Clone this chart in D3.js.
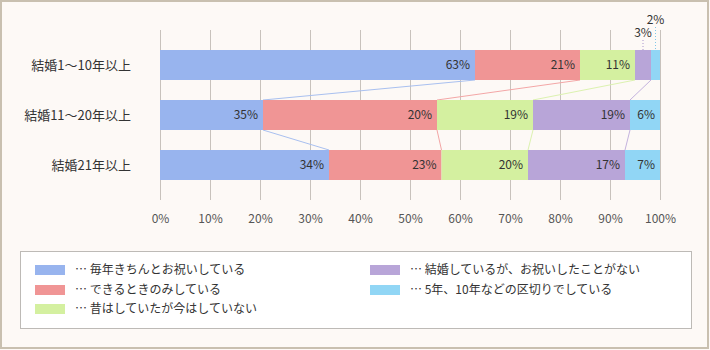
<!DOCTYPE html>
<html><head><meta charset="utf-8">
<script src="https://cdn.jsdelivr.net/npm/d3@7"></script>
<style>
html,body{margin:0;padding:0;background:#fdf9f6;}
svg text{font-family:"Noto Sans CJK JP","Noto Sans",sans-serif;}
</style></head>
<body><svg id="c" width="710" height="350"></svg>
<script>
const categories = ["結婚1～10年以上", "結婚11～20年以上", "結婚21年以上"];
const seriesNames = ["毎年きちんとお祝いしている", "できるときのみしている", "昔はしていたが今はしていない", "結婚しているが、お祝いしたことがない", "5年、10年などの区切りでしている"];
// segment lengths as drawn in the picture
const seg1 = [63, 21, 11, 3.2, 1.8];
const seg2 = [20.6, 34.8, 19.2, 19.4, 6];
const seg3 = [33.8, 22.5, 17.3, 19.4, 7];
// percentages as printed on the bars
const lab1 = ["63%", "21%", "11%", "3%", "2%"];
const lab2 = ["35%", "20%", "19%", "19%", "6%"];
const lab3 = ["34%", "23%", "20%", "17%", "7%"];
const tickValues = [0,10,20,30,40,50,60,70,80,90,100];
const colors = ["#98b4ee", "#f09595", "#d4f0a0", "#b8a5d8", "#91d6f5"];
const lineColors = ["#a9c0f0", "#f3a6a6", "#dcf2b0", "#c4b3de"];

const segs = [seg1, seg2, seg3];
const labs = [lab1, lab2, lab3];

const svg = d3.select("#c");
svg.append("rect").attr("x",1).attr("y",1).attr("width",707).attr("height",347)
  .attr("fill","#fdf9f6").attr("stroke","#c9c0b0").attr("stroke-width",2);

const x = d3.scaleLinear().domain([0,100]).range([160,660]);
const y = d3.scaleBand().domain(categories).range([40,190]).paddingInner(0.4).paddingOuter(0.2);

// grid
svg.append("g").selectAll("line").data(tickValues).join("line")
  .attr("x1",d=>Math.round(x(d))+0.5).attr("x2",d=>Math.round(x(d))+0.5)
  .attr("y1",30).attr("y2",200).attr("stroke","#c8c2bc").attr("stroke-width",1);

// axis labels
const ax = svg.append("g").attr("transform","translate(0,219)")
  .call(d3.axisBottom(x).tickValues(tickValues).tickFormat(d=>d+"%").tickSize(0).tickPadding(0));
ax.select(".domain").remove();
ax.selectAll("text").attr("fill","#555").attr("font-size",12).attr("dy","0.35em")
  .attr("font-family","'Noto Sans CJK JP',sans-serif");

// stacks
const stacked = segs.map(s => { let c=0; return s.map(v => { const a=c; c+=v; return [a,c]; }); });

// connectors
for (let r=0; r<2; r++) {
  for (let k=0; k<4; k++) {
    svg.append("line")
      .attr("x1", x(stacked[r][k][1])).attr("y1", y(categories[r])+y.bandwidth())
      .attr("x2", x(stacked[r+1][k][1])).attr("y2", y(categories[r+1]))
      .attr("stroke", lineColors[k]).attr("stroke-width",1);
  }
}

categories.forEach((cat,r) => {
  const g = svg.append("g");
  g.selectAll("rect").data(stacked[r]).join("rect")
    .attr("x",d=>x(d[0])).attr("width",d=>x(d[1])-x(d[0]))
    .attr("y",y(cat)).attr("height",y.bandwidth())
    .attr("fill",(d,i)=>colors[i]);
  g.selectAll("text.v").data(stacked[r]).join("text").attr("class","v")
    .filter((d,i)=> (d[1]-d[0]) > 4)
    .attr("x",d=>x(d[1])-5).attr("y",y(cat)+y.bandwidth()/2).attr("dy","0.36em")
    .attr("text-anchor","end").attr("font-size",12).attr("fill","#333")
    .text((d,i)=>labs[r][stacked[r].indexOf(d)]);
  // small segments: labels above with dotted leaders
  stacked[r].forEach((d,i) => {
    if (d[1]-d[0] <= 4) {
      const cx = x((d[0]+d[1])/2);
      const top = i===4 ? 27 : 40;
      g.append("line").attr("x1",cx).attr("x2",cx).attr("y1",top).attr("y2",y(cat))
        .attr("stroke",lineColors[3] && (i===4?"#7fc8ea":"#a895cc")).attr("stroke-width",1)
        .attr("stroke-dasharray","1,2");
      g.append("text").attr("x",cx).attr("y",top-3).attr("text-anchor","middle")
        .attr("font-size",12).attr("fill","#333").text(labs[r][i]);
    }
  });
  svg.append("text").attr("x",131).attr("y",y(cat)+y.bandwidth()/2).attr("dy","0.36em")
    .attr("text-anchor","end").attr("font-size",13).attr("fill","#333").text(cat);
});

// legend
svg.append("rect").attr("x",20.5).attr("y",251.5).attr("width",671).attr("height",77)
  .attr("fill","#fff").attr("stroke","#bdbab6").attr("stroke-width",1);
const legPos = [[35,270],[35,290],[35,309],[370,270],[370,290]];
seriesNames.forEach((n,i) => {
  const [lx,ly] = legPos[i];
  svg.append("rect").attr("x",lx).attr("y",ly-5).attr("width",30).attr("height",10).attr("fill",colors[i]);
  svg.append("text").attr("x",lx+40).attr("y",ly).attr("dy","0.36em")
    .attr("font-size",12).attr("fill","#333").text("… " + n);
});
</script></body></html>
